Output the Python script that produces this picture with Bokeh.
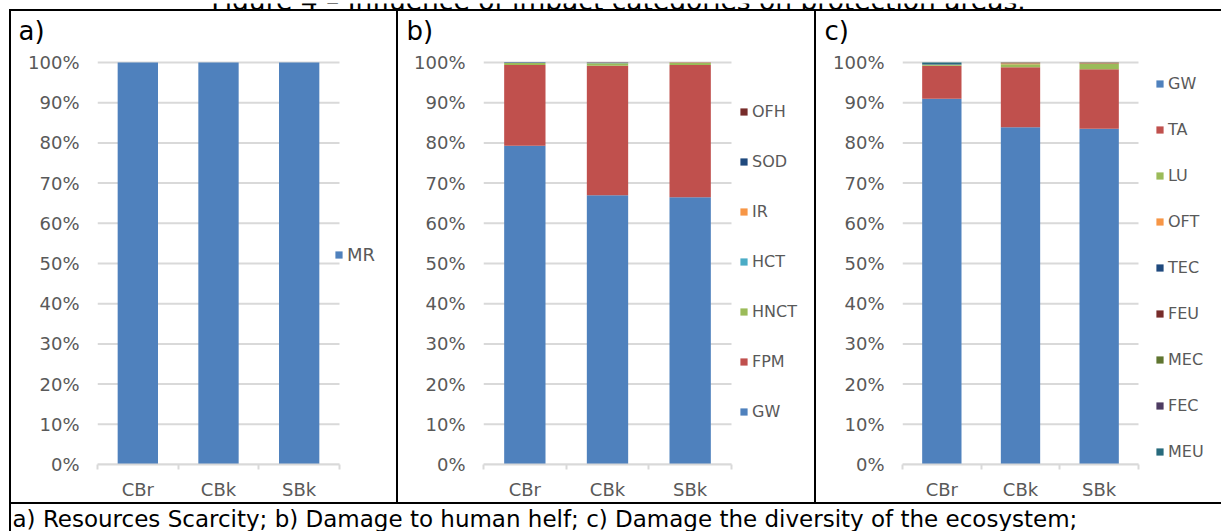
from bokeh.plotting import figure
from bokeh.layouts import row, column
from bokeh.models import (ColumnDataSource, Range1d, LinearAxis, FixedTicker, PrintfTickFormatter,
                          Legend, LegendItem, Label, Spacer)
from bokeh.core.properties import value
from bokeh.core.validation import silence
from bokeh.core.validation.warnings import MISSING_RENDERERS
from bokeh.embed import file_html
from bokeh.resources import INLINE

silence(MISSING_RENDERERS, True)

# ---------------- data ----------------
title_text = "Figure 4 – Influence of impact categories on protection areas."
caption_text = "a) Resources Scarcity; b) Damage to human helf; c) Damage the diversity of the ecosystem;"
panel_labels = ["a)", "b)", "c)"]
categories = ["CBr", "CBk", "SBk"]
y_tick_values = [0, 10, 20, 30, 40, 50, 60, 70, 80, 90, 100]

# panel a
a_series = ["MR"]
a_MR = [100, 100, 100]

# panel b (stack order bottom -> top)
b_series = ["GW", "FPM", "HNCT", "HCT", "IR", "SOD", "OFH"]
b_GW = [79.3, 67.0, 66.5]
b_FPM = [20.1, 32.2, 32.85]
b_HNCT = [0.45, 0.6, 0.5]
b_HCT = [0.02, 0.05, 0.05]
b_IR = [0.02, 0.05, 0.03]
b_SOD = [0.1, 0.02, 0.02]
b_OFH = [0.01, 0.08, 0.05]

# panel c (stack order bottom -> top)
c_series = ["GW", "TA", "LU", "OFT", "TEC", "FEU", "MEC", "FEC", "MEU"]
c_GW = [91.0, 83.9, 83.5]
c_TA = [8.2, 14.9, 14.8]
c_LU = [0.15, 0.75, 1.3]
c_OFT = [0.1, 0.25, 0.2]
c_TEC = [0.02, 0.1, 0.1]
c_FEU = [0.02, 0.05, 0.05]
c_MEC = [0.01, 0.02, 0.02]
c_FEC = [0.01, 0.02, 0.02]
c_MEU = [0.49, 0.01, 0.01]

a_colors = ["#4F81BD"]
b_colors = ["#4F81BD", "#C0504D", "#9BBB59", "#4BACC6", "#F79646", "#1F497D", "#772C2A"]
c_colors = ["#4F81BD", "#C0504D", "#9BBB59", "#F79646", "#1F497D", "#772C2A", "#5F7530", "#4D3B62", "#276A7C"]

# ---------------- style ----------------
FONT = "DejaVu Sans"
GRID = "#d9d9d9"
TXT = "#595959"
HEAD_H = 40
CHART_H = 451


def strip(w, h, text, x, y, size, align="left"):
    f = figure(width=w, height=h, min_border=0, x_axis_type=None, y_axis_type=None,
               toolbar_location=None, output_backend="svg", title=None,
               x_range=Range1d(0, 1), y_range=Range1d(0, 1))
    f.background_fill_color = "white"
    f.border_fill_color = "white"
    f.outline_line_color = None
    f.add_layout(Label(x=x, y=y, x_units="canvas", y_units="canvas", text=text,
                       text_align=align, text_baseline="alphabetic", text_font=FONT,
                       text_font_size=size, text_color="black"))
    return f


def line(w, h, color="black"):
    return Spacer(width=w, height=h, styles={"background-color": color})


def panel(series, values, colors, W, L, top, FH, chart_w, legend_xy, spacing, legend_fs, reverse):
    n = len(categories)
    FW = W - L
    H = CHART_H
    p = figure(width=W, height=H, x_range=Range1d(0, n * FW / chart_w),
               y_range=Range1d(0, 100 * FH / (FH - 2)),
               x_axis_type=None, y_axis_type=None, toolbar_location=None, title=None,
               output_backend="svg", min_border_left=L, min_border_right=0,
               min_border_top=top, min_border_bottom=H - top - FH)
    p.outline_line_color = None
    p.background_fill_color = "white"
    p.border_fill_color = "white"

    # horizontal gridlines limited to the category area
    p.segment(x0=[0] * len(y_tick_values), x1=[n] * len(y_tick_values),
              y0=y_tick_values, y1=y_tick_values, line_color=GRID, line_width=2)

    xs = [i + 0.5 for i in range(n)]
    data = {"x": xs}
    keys = []
    for s, v in zip(series, values):
        k = "v_" + s
        data[k] = v
        keys.append(k)
    src = ColumnDataSource(data)
    rs = p.vbar_stack(keys, x="x", width=0.5, fill_color=colors, line_color=None, source=src)

    yax = LinearAxis(ticker=FixedTicker(ticks=y_tick_values),
                     formatter=PrintfTickFormatter(format="%d%%"),
                     axis_line_color=None, major_tick_line_color=None, minor_tick_line_color=None,
                     major_tick_out=0, major_tick_in=0, minor_tick_out=0, minor_tick_in=0,
                     major_label_standoff=18, major_label_text_font=FONT,
                     major_label_text_font_size="18px", major_label_text_color=TXT)
    p.add_layout(yax, "left")

    xax = LinearAxis(ticker=FixedTicker(ticks=xs, minor_ticks=list(range(n + 1))),
                     bounds=(0, n),
                     major_label_overrides={x: c for x, c in zip(xs, categories)},
                     major_tick_out=0, major_tick_in=0, major_tick_line_color=None,
                     minor_tick_out=5, minor_tick_in=0, minor_tick_line_color=GRID,
                     minor_tick_line_width=2, axis_line_color=GRID, axis_line_width=2,
                     major_label_standoff=9, major_label_text_font=FONT,
                     major_label_text_font_size="18px", major_label_text_color=TXT)
    p.add_layout(xax, "below")

    items = [LegendItem(label=value(s), renderers=[r]) for s, r in zip(series, rs)]
    if reverse:
        items = items[::-1]
    leg = Legend(items=items, location=legend_xy, orientation="vertical",
                 glyph_width=9, glyph_height=9, label_standoff=4, label_height=20,
                 spacing=spacing, padding=0, margin=0, border_line_color=None,
                 background_fill_alpha=0, label_text_font=FONT,
                 label_text_font_size=legend_fs, label_text_color=TXT)
    p.add_layout(leg)
    return p


# frame tops are measured from the top of the chart row (page y = 51)
pa = panel(a_series, [a_MR], a_colors, W=385, L=86, top=9, FH=405, chart_w=242,
           legend_xy=(237, 199), spacing=30, legend_fs="18px", reverse=False)
pb = panel(b_series, [b_GW, b_FPM, b_HNCT, b_HCT, b_IR, b_SOD, b_OFH], b_colors,
           W=416, L=85, top=6, FH=408, chart_w=248, legend_xy=(256, 43), spacing=30,
           legend_fs="16px", reverse=True)
pc = panel(c_series, [c_GW, c_TA, c_LU, c_OFT, c_TEC, c_FEU, c_MEC, c_FEC, c_MEU], c_colors,
           W=405, L=86, top=8, FH=406, chart_w=236, legend_xy=(253, 3), spacing=26,
           legend_fs="16px", reverse=False)

head_a = strip(385, HEAD_H, panel_labels[0], 7, 19, "26px")
head_b = strip(416, HEAD_H, panel_labels[1], 8, 19, "26px")
head_c = strip(405, HEAD_H, panel_labels[2], 8, 19, "26px")

# title strip (mostly cropped off at the top, as in the reference)
tfig = strip(1221, 9, title_text, 618, -3, "26.5px", align="center")
# caption strip
cfig = strip(1210, 27, caption_text, 1, 14, "23px")

layout = column(
    tfig,
    row(line(9, 2, "white"), line(1212, 2)),
    row(line(9, HEAD_H, "white"), line(2, HEAD_H), head_a, line(2, HEAD_H), head_b,
        line(2, HEAD_H), head_c),
    row(line(9, CHART_H, "white"), line(2, CHART_H), pa, line(2, CHART_H), pb,
        line(2, CHART_H), pc),
    row(line(9, 2, "white"), line(1212, 2)),
    row(line(9, 27, "white"), line(2, 27), cfig),
)

open("out.html", "w").write(file_html(layout, INLINE))
